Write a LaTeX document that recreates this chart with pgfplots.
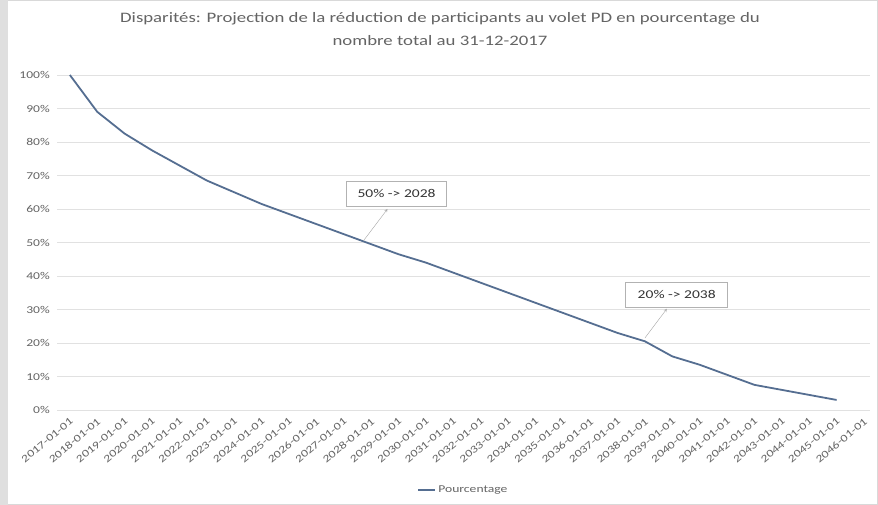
\documentclass[border=0pt]{standalone}
\usepackage{fontspec}
\setmainfont{Carlito}[FakeStretch=1.3]
\usepackage{pgfplots}
\pgfplotsset{compat=1.18}
\definecolor{lineblue}{RGB}{85,110,145}
\definecolor{txtgray}{RGB}{100,100,100}
\definecolor{gridgray}{RGB}{225,225,225}
\begin{document}
\begin{tikzpicture}[x=1bp,y=1bp]
\useasboundingbox (0,0) rectangle (878,505);
\fill[white] (0,0) rectangle (878,505);
\fill[gray!25] (0,0) rectangle (8,505);
\draw[gray!30] (8,0.5) -- (877.5,0.5) -- (877.5,504.5) -- (8,504.5);
\begin{axis}[
  at={(57bp,95bp)}, anchor=south west,
  scale only axis, width=813bp, height=335bp,
  xmin=-0.47, xmax=29.22, ymin=0, ymax=100,
  axis line style={draw=none},
  axis x line*=bottom,
  ytick={0,10,...,100},
  yticklabel={\pgfmathprintnumber{\tick}\%},
  /pgf/number format/assume math mode=true,
  ymajorgrids, major grid style={gridgray, line width=0.8pt},
  tick style={draw=none},
  xtick={0,...,29},
  xticklabels={2017-01-01,2018-01-01,2019-01-01,2020-01-01,2021-01-01,2022-01-01,2023-01-01,2024-01-01,2025-01-01,2026-01-01,2027-01-01,2028-01-01,2029-01-01,2030-01-01,2031-01-01,2032-01-01,2033-01-01,2034-01-01,2035-01-01,2036-01-01,2037-01-01,2038-01-01,2039-01-01,2040-01-01,2041-01-01,2042-01-01,2043-01-01,2044-01-01,2045-01-01,2046-01-01},
  x tick label style={rotate=40, anchor=north east, font=\fontsize{10.5}{11}\selectfont, text=txtgray, inner sep=2pt, xshift=-3bp, yshift=-3bp},
  y tick label style={font=\fontsize{10.5}{11}\selectfont, text=txtgray, inner sep=7pt},
  legend style={at={(0.5,-0.239)}, anchor=center, draw=none, fill=none, font=\fontsize{10.5}{11}\selectfont, text=txtgray},
  legend cell align=left,
  clip=false,
]
\addplot[lineblue, line width=1.8pt, mark=none] coordinates {
(0,100) (1,89) (2,82.5) (3,77.5) (4,73) (5,68.5) (6,65) (7,61.5) (8,58.5) (9,55.5)
(10,52.5) (11,49.5) (12,46.5) (13,44) (14,41) (15,38) (16,35) (17,32) (18,29) (19,26)
(20,23) (21,20.5) (22,16) (23,13.5) (24,10.5) (25,7.5) (26,6) (27,4.5) (28,3)
};
\addlegendentry{Pourcentage}
\draw[gray!70, -stealth] (axis cs:10.72,50.5) -- (axis cs:11.6,60);
\node[draw=gray!60, fill=white, text=black!80, font=\fontsize{12}{13}\selectfont, minimum width=100bp, minimum height=25bp] at (axis cs:11.93,64.5) {50\% -> 2028};
\draw[gray!70, -stealth] (axis cs:21.0,21.5) -- (axis cs:21.8,30.2);
\node[draw=gray!60, fill=white, text=black!80, font=\fontsize{12}{13}\selectfont, minimum width=102bp, minimum height=25bp] at (axis cs:22.16,34.5) {20\% -> 2038};
\end{axis}
\node[text=txtgray, align=center, font=\fontsize{14.5}{23}\selectfont] at (440,476) {Disparités: Projection de la réduction de participants au volet PD en pourcentage du\\nombre total au 31-12-2017};
\end{tikzpicture}
\end{document}
